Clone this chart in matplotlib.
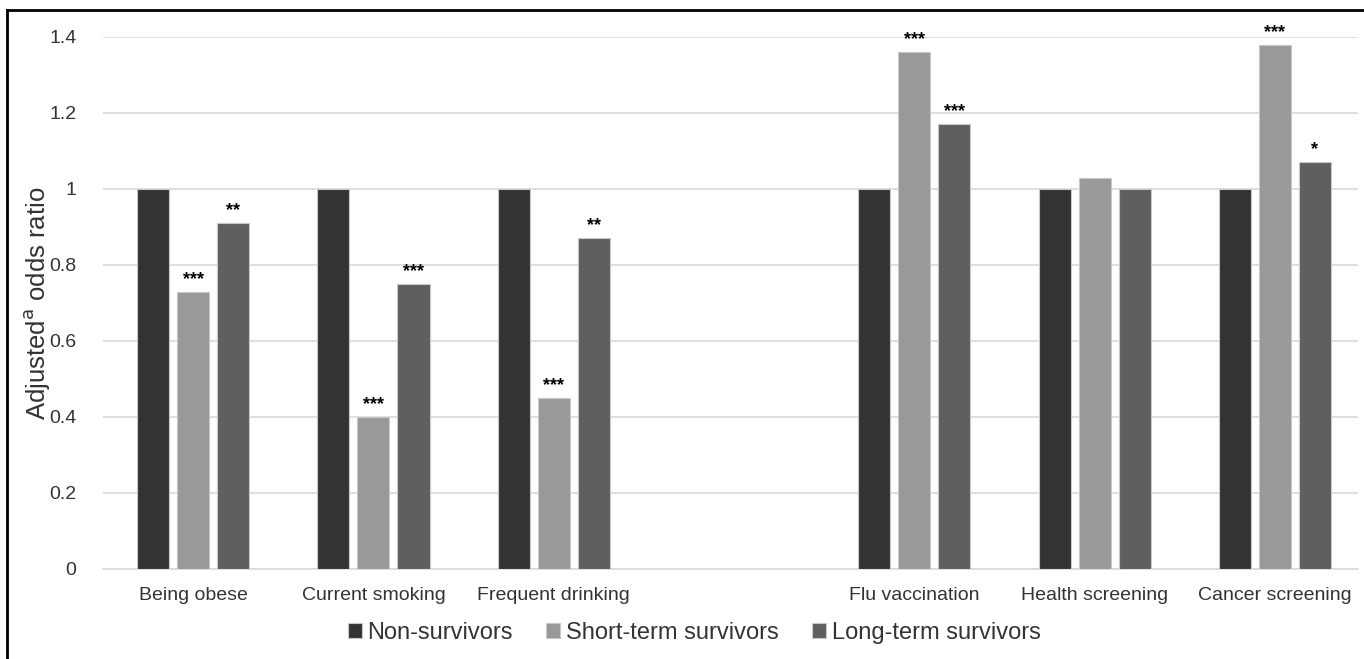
import numpy as np
import matplotlib
matplotlib.use("Agg")
import matplotlib.pyplot as plt
from matplotlib.lines import Line2D

plt.rcParams["font.family"] = ["Liberation Sans", "DejaVu Sans"]

# dados (slot vazio entre comportamentos e prevenção)
categories = ["Being obese", "Current smoking", "Frequent drinking", "",
              "Flu vaccination", "Health screening", "Cancer screening"]
series_names = ["Non-survivors", "Short-term survivors", "Long-term survivors"]
non_surv = [1.00, 1.00, 1.00, np.nan, 1.00, 1.00, 1.00]
short_surv = [0.73, 0.40, 0.45, np.nan, 1.36, 1.03, 1.38]
long_surv = [0.91, 0.75, 0.87, np.nan, 1.17, 1.00, 1.07]
sig_short = ["***", "***", "***", "", "***", "", "***"]
sig_long = ["**", "***", "**", "", "***", "", "*"]

colors = ["#333333", "#999999", "#5f5f5f"]

fig = plt.figure(figsize=(13.64, 6.59), dpi=100)
ax = fig.add_axes([0.0755, 0.1366, 0.92, 0.8073])

x = np.arange(len(categories))
w = 0.178
step = 0.222
all_vals = [non_surv, short_surv, long_surv]
sigs = [None, sig_short, sig_long]

for i, (vals, col, name) in enumerate(zip(all_vals, colors, series_names)):
    pos = x + (i - 1) * step
    ax.bar(pos, vals, width=w, color=col, edgecolor="#c8c8c8", linewidth=0.8,
           label=name, zorder=3)
    if sigs[i] is not None:
        for p, v, s in zip(pos, vals, sigs[i]):
            if s and not np.isnan(v):
                ax.text(p, v + 0.01, s, ha="center", va="bottom",
                        fontsize=13, fontweight="bold", color="black")

ax.set_xlim(-0.5, 6.46)
ax.set_ylim(0, 1.4)
ax.set_yticks([0, 0.2, 0.4, 0.6, 0.8, 1.0, 1.2, 1.4])
ax.set_yticklabels(["0", "0.2", "0.4", "0.6", "0.8", "1", "1.2", "1.4"])
ax.set_xticks(x)
ax.set_xticklabels(categories)
ax.tick_params(axis="both", length=0, labelsize=14, colors="#333333")
ax.tick_params(axis="x", pad=13)
ax.tick_params(axis="y", pad=19)
ax.yaxis.grid(True, color="#d9d9d9", linewidth=1.2, zorder=0)
ax.set_axisbelow(True)
for sp in ["top", "right", "left"]:
    ax.spines[sp].set_visible(False)
ax.spines["bottom"].set_color("#d9d9d9")
ax.spines["bottom"].set_linewidth(1.2)

ax.set_ylabel("Adjusted$^{\\mathrm{a}}$ odds ratio", fontsize=18.5, color="#333333",
              labelpad=-2)

leg = fig.legend(loc="center", bbox_to_anchor=(0.509, 0.04), ncol=3,
                 frameon=False, fontsize=17, handlelength=0.6,
                 handleheight=0.6, handletextpad=0.25, columnspacing=1.4)
for t in leg.get_texts():
    t.set_color("#333333")

# moldura (topo e esquerda)
fig.add_artist(Line2D([7 / 1364, 1], [1 - 10 / 659, 1 - 10 / 659],
                      transform=fig.transFigure, color="black", linewidth=2))
fig.add_artist(Line2D([7 / 1364, 7 / 1364], [0, 1 - 10 / 659],
                      transform=fig.transFigure, color="black", linewidth=2))

fig.savefig("out.png", dpi=100)
